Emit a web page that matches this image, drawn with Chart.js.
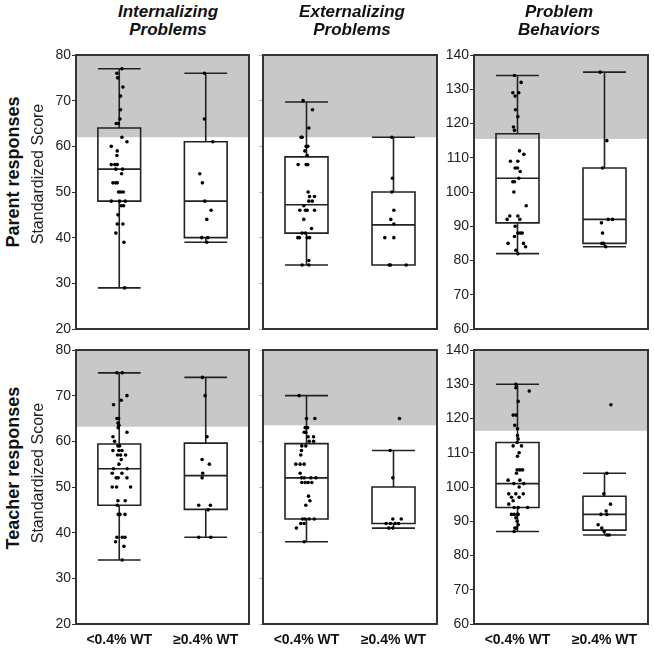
<!DOCTYPE html>
<html><head><meta charset="utf-8">
<script src="https://cdn.jsdelivr.net/npm/chart.js@4.4.1/dist/chart.umd.min.js"></script>
<style>
html,body{margin:0;padding:0;background:#fff;}
body{width:654px;height:652px;position:relative;overflow:hidden;font-family:Arial,"Liberation Sans",sans-serif;color:#111;}
canvas{position:absolute;}
.title{position:absolute;font-weight:bold;font-style:italic;font-size:17px;line-height:18px;text-align:center;white-space:nowrap;transform:translateX(-50%);color:#111;}
.rot{position:absolute;white-space:nowrap;transform:translate(-50%,-50%) rotate(-90deg);}
</style></head>
<body>
<script>
// ---------- text ----------
const groupLabels = ['<0.4% WT', '\u22650.4% WT'];
const columnTitles = [['Internalizing','Problems'], ['Externalizing','Problems'], ['Problem','Behaviors']];
const rowTitles = ['Parent responses', 'Teacher responses'];
const yAxisTitle = 'Standardized Score';
const stdTicks = [20,30,40,50,60,70,80];
const behaviorTicks = [60,70,80,90,100,110,120,130,140];

// ---------- clinical-range cutoffs (grey band from cutoff to axis top) ----------
const parentCutoffs = [62, 62, 115.5];
const teacherCutoffs = [63.2, 63.5, 116.4];

// ---------- box stats [min, q1, median, q3, max] per group ----------
const parentIntBox = [[29,48,55,64,77],[39,40,48,61,76]];
const parentExtBox = [[34,41,47.2,57.7,69.7],[34,34,42.8,50,62]];
const parentPBBox  = [[82,91,104,117,134],[84,85,92,107,135]];
const teacherIntBox = [[34,46,54,59.4,75],[39,45.1,52.5,59.6,74]];
const teacherExtBox = [[38,43,52,59.5,70],[41,42,42,50,58]];
const teacherPBBox  = [[87,94,101,113,130],[86,87.4,92,97.3,104]];

// ---------- individual scores and horizontal jitter (category units) ----------
const parentIntLowVals = [76,77,75,73,71,68,66,65,65,62,61,60,59,58,56,56,56,55,55,54,52,52,52,50,50,50,48,48,48,47,47,45,43,43,41,39,29];
const parentIntLowJit = [-0.027,0.031,-0.019,0.042,0.015,0.015,0.008,-0.035,-0.012,0.031,0.089,-0.092,-0.023,-0.027,-0.092,-0.05,-0.023,-0.039,0.039,0.027,-0.073,-0.042,-0.023,-0.008,0.015,0.046,-0.092,0.004,0.069,0.023,0.05,-0.015,-0.023,0.042,-0.039,0.054,0.062];
const parentIntHighVals = [76,66,61,54,52,48,46,44,40,40,39];
const parentIntHighJit = [-0.015,-0.015,0.081,-0.069,-0.039,-0.012,0.062,0.012,-0.046,0.023,0.012];

const parentExtLowVals = [70,68,64,62,62,60,60,59,58,56,56,56,50,49,49,48,48,47,46,46,46,46,44,42,41,41,40,40,40,40,35,34,34];
const parentExtLowJit = [-0.039,0.069,0.027,-0.062,-0.05,-0.004,0.015,-0.019,0.008,-0.096,-0.004,0.015,0.019,0.035,0.092,0.027,0.066,-0.031,-0.077,-0.012,0.008,0.092,-0.031,0.058,-0.05,-0.012,-0.1,-0.081,0.008,0.035,0.027,-0.05,0.027];
const parentExtHighVals = [62,53,50,46,44,43,40,40,34,34,34];
const parentExtHighJit = [-0.019,-0.012,-0.019,0.004,-0.031,0.004,-0.1,0.004,-0.05,-0.035,0.146];

const parentPBLowVals = [134,132,129,129,128,124,122,119,118,112,111,109,109,107,107,106,103,103,104,100,96,93,93,92,92,90,88,88,88,87,85,85,84,83,82];
const parentPBLowJit = [-0.035,0.042,-0.054,0.015,-0.027,-0.023,0.004,-0.046,-0.035,0.023,0.073,-0.081,0.004,-0.027,0,0.031,-0.054,-0.035,0.015,-0.042,0.1,-0.089,0.004,-0.12,0.027,-0.027,0.004,0.031,0.054,-0.035,-0.108,0.069,0.093,-0.019,0.004];
const parentPBHighVals = [135,115,107,92,92,91,88,85,85,84];
const parentPBHighJit = [-0.05,0.027,-0.023,0.042,0.092,-0.035,-0.023,-0.031,-0.012,0.015];

const teacherIntLowVals = [75,75,70,69,68,65,65,64,63.5,63,62,61,60,59,59,58,58,58,57,57,57,56,55,54,54,53,53,52,52,52,50,50,50,47,47,46,44,44,44,39,39,39,38,37,34];
const teacherIntLowJit = [-0.027,0.035,0.089,0.023,-0.066,-0.027,-0.008,-0.015,-0.004,-0.012,0.089,-0.073,-0.054,-0.015,0.004,-0.073,-0.004,0.031,-0.019,0.015,0.073,0.023,-0.004,-0.066,0.092,-0.081,0.031,-0.035,-0.012,0.089,-0.081,-0.031,0.131,-0.015,0.069,-0.023,-0.012,0.008,0.066,-0.027,0.035,0.066,-0.042,0.054,0.035];
const teacherIntHighVals = [74,70,61,56,55,53,52,46,46,45,39,39];
const teacherIntHighJit = [-0.039,-0.008,0.015,-0.042,0.042,-0.035,-0.042,-0.081,0.054,0.027,-0.081,0.058];

const teacherExtLowVals = [70,65,65,63,63,62,62,61,61,60,60,59,59,58,57,55,55,55,53,52,52,52,52,51,51,51,51,48,47,46,43,43,43,43,42,42,41,38];
const teacherExtLowJit = [-0.085,0,0.096,-0.015,0.012,-0.027,-0.008,0.019,0.081,0.031,0.081,-0.054,-0.008,-0.058,-0.066,-0.123,-0.073,-0.027,-0.073,-0.058,-0.027,0.05,0.108,-0.054,-0.015,0.019,0.062,0.023,0.039,-0.008,-0.046,-0.015,0.031,0.089,-0.066,-0.027,-0.116,-0.027];
const teacherExtHighVals = [65,58,52,43,43,42,42,42,42,41,41];
const teacherExtHighJit = [0.069,-0.039,-0.008,-0.008,0.089,-0.085,-0.035,0.019,0.058,-0.054,-0.008];

const teacherPBLowVals = [130,129,128,125,121,121,118,117,115,114,113,112,112,110,109,105,105,105,104,102,102,101,101,100,98,98,98,97,97,96,95,94,94,94,92,92,92,92,91,90,89,88,88,87];
const teacherPBLowJit = [-0.019,-0.019,0.135,0.008,-0.05,-0.019,-0.031,0,0,0.008,-0.004,-0.05,0.046,0.019,0,-0.004,0.027,0.058,-0.012,-0.108,0.027,-0.042,0.073,0.019,-0.1,-0.019,0.066,-0.069,0.019,-0.05,-0.1,0.116,-0.039,0.008,-0.069,-0.039,-0.004,0.008,-0.019,-0.004,0.008,-0.031,-0.012,-0.039];
const teacherPBHighVals = [124,104,98,95,93,92,92,89,88,87,86,86];
const teacherPBHighJit = [0.073,0.027,-0.008,0.069,0.019,-0.042,0.027,-0.073,-0.031,-0.004,0.027,0.054];

// ---------- layout ----------
const FONT = 'Arial, "Liberation Sans", sans-serif';
Chart.defaults.font.family = FONT;
const colLeft = [76, 263, 474], colWidth = [173, 174, 174];
const rowTop = [55, 350], rowHeight = [274, 274];
const titleCenters = [168, 352, 559];
const rowLabelCenters = [[13, 172], [13, 468]];
const yTitleCenters = [[38, 174], [38, 473]];

const panels = [
  {r:0,c:0, ticks:stdTicks, cutoff:parentCutoffs[0], box:parentIntBox, pts:[[parentIntLowVals,parentIntLowJit],[parentIntHighVals,parentIntHighJit]]},
  {r:0,c:1, ticks:stdTicks, cutoff:parentCutoffs[1], box:parentExtBox, pts:[[parentExtLowVals,parentExtLowJit],[parentExtHighVals,parentExtHighJit]]},
  {r:0,c:2, ticks:behaviorTicks, cutoff:parentCutoffs[2], box:parentPBBox, pts:[[parentPBLowVals,parentPBLowJit],[parentPBHighVals,parentPBHighJit]]},
  {r:1,c:0, ticks:stdTicks, cutoff:teacherCutoffs[0], box:teacherIntBox, pts:[[teacherIntLowVals,teacherIntLowJit],[teacherIntHighVals,teacherIntHighJit]]},
  {r:1,c:1, ticks:stdTicks, cutoff:teacherCutoffs[1], box:teacherExtBox, pts:[[teacherExtLowVals,teacherExtLowJit],[teacherExtHighVals,teacherExtHighJit]]},
  {r:1,c:2, ticks:behaviorTicks, cutoff:teacherCutoffs[2], box:teacherPBBox, pts:[[teacherPBLowVals,teacherPBLowJit],[teacherPBHighVals,teacherPBHighJit]]}
];

const boxPlugin = {
  id: 'boxes',
  beforeDatasetsDraw(chart, args, opts) {
    const {ctx, chartArea: a, scales: {x, y}} = chart;
    ctx.save();
    // grey clinical band
    const yc = y.getPixelForValue(opts.cutoff), yt = y.getPixelForValue(y.max);
    ctx.fillStyle = '#c8c8c8';
    ctx.fillRect(a.left, yt, a.right - a.left, yc - yt);
    // boxes and whiskers
    ctx.strokeStyle = '#222';
    ctx.lineWidth = 1.6;
    opts.box.forEach((s, i) => {
      const cx = x.getPixelForValue(i + 1);
      const hw = x.getPixelForValue(i + 1 + opts.halfWidth) - cx;
      const [mn, q1, md, q3, mx] = s.map(v => y.getPixelForValue(v));
      ctx.beginPath();
      ctx.moveTo(cx, mx); ctx.lineTo(cx, q3);
      ctx.moveTo(cx, q1); ctx.lineTo(cx, mn);
      ctx.moveTo(cx - hw, mx); ctx.lineTo(cx + hw, mx);
      ctx.moveTo(cx - hw, mn); ctx.lineTo(cx + hw, mn);
      ctx.moveTo(cx - hw, md); ctx.lineTo(cx + hw, md);
      ctx.rect(cx - hw, q3, 2 * hw, q1 - q3);
      ctx.stroke();
    });
    ctx.restore();
  },
  afterDraw(chart) {
    const {ctx, chartArea: a} = chart;
    ctx.save();
    ctx.strokeStyle = '#333';
    ctx.lineWidth = 2;
    ctx.strokeRect(a.left, a.top, a.right - a.left, a.bottom - a.top);
    ctx.restore();
  }
};

panels.forEach((p, k) => {
  const L = colLeft[p.c], W = colWidth[p.c], T = rowTop[p.r], H = rowHeight[p.r];
  const padL = 50, padT = 10, padR = 8;
  const hasX = p.r === 1;
  const bottomExtra = hasX ? 32 : 10;
  const cv = document.createElement('canvas');
  const cw = W + padL + padR, ch = H + padT + bottomExtra;
  cv.width = cw; cv.height = ch;
  cv.style.left = (L - padL) + 'px'; cv.style.top = (T - padT) + 'px';
  cv.style.width = cw + 'px'; cv.style.height = ch + 'px';
  document.body.appendChild(cv);
  const showY = p.c !== 1;
  new Chart(cv, {
    type: 'scatter',
    data: {
      datasets: p.pts.map(([vals, jit], g) => ({
        data: vals.map((v, i) => ({x: g + 1 + jit[i], y: v})),
        pointRadius: 1.8,
        pointBackgroundColor: '#000',
        pointBorderWidth: 0,
        pointHoverRadius: 1.8
      }))
    },
    options: {
      responsive: false,
      devicePixelRatio: 1,
      animation: false,
      events: [],
      layout: {padding: {left: 0, top: padT, right: padR, bottom: hasX ? 0 : 10}},
      plugins: {
        legend: {display: false},
        tooltip: {enabled: false},
        boxes: {cutoff: p.cutoff, box: p.box, halfWidth: 0.247}
      },
      scales: {
        x: {
          type: 'linear', min: 0.5, max: 2.5,
          display: hasX,
          afterBuildTicks: s => { s.ticks = groupLabels.map((_, i) => ({value: i + 1})); },
          afterFit: s => { s.height = hasX ? 32 : 0; },
          grid: {display: false, drawTicks: false},
          border: {display: false},
          ticks: {
            padding: 8,
            color: '#111',
            font: {size: 14, weight: 'bold', family: FONT},
            maxRotation: 0, autoSkip: false,
            callback: v => groupLabels[Math.round(v) - 1]
          }
        },
        y: {
          type: 'linear',
          min: p.ticks[0], max: p.ticks[p.ticks.length - 1],
          afterBuildTicks: s => { s.ticks = p.ticks.map(v => ({value: v})); },
          afterFit: s => { s.width = padL; },
          grid: {display: true, drawOnChartArea: false, drawTicks: true, tickLength: 4, color: showY ? '#333' : '#bbb', lineWidth: 1},
          border: {display: false},
          ticks: {display: showY, padding: 1, color: '#222', font: {size: 14, family: FONT}}
        }
      }
    },
    plugins: [boxPlugin]
  });
});

// titles
columnTitles.forEach((t, i) => {
  const d = document.createElement('div');
  d.className = 'title';
  d.style.left = titleCenters[i] + 'px';
  d.style.top = '3px';
  d.innerHTML = t.join('<br>');
  document.body.appendChild(d);
});
rowTitles.forEach((t, i) => {
  const d = document.createElement('div');
  d.className = 'rot';
  d.style.left = rowLabelCenters[i][0] + 'px';
  d.style.top = rowLabelCenters[i][1] + 'px';
  d.style.font = 'bold 18px ' + FONT;
  d.style.color = '#111';
  d.textContent = t;
  document.body.appendChild(d);
  const s = document.createElement('div');
  s.className = 'rot';
  s.style.left = yTitleCenters[i][0] + 'px';
  s.style.top = yTitleCenters[i][1] + 'px';
  s.style.font = '16px ' + FONT;
  s.style.color = '#222';
  s.textContent = yAxisTitle;
  document.body.appendChild(s);
});
</script>
</body></html>
